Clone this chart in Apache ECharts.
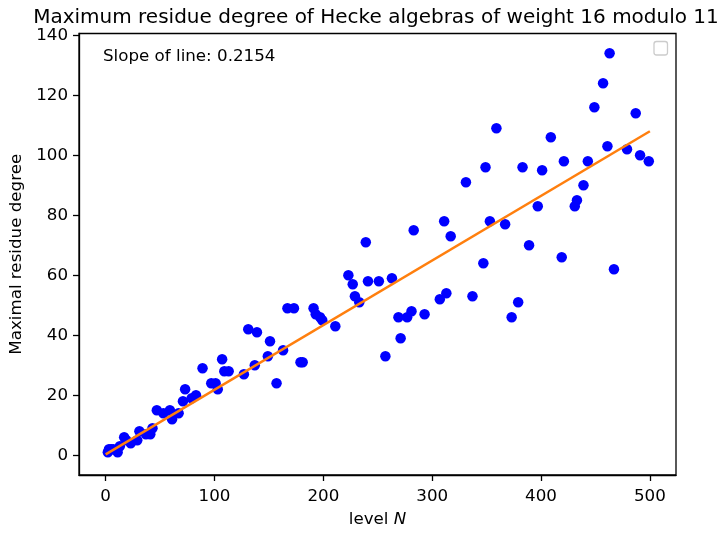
<!DOCTYPE html>
<html>
<head>
<meta charset="utf-8">
<script src="https://cdn.jsdelivr.net/npm/echarts@6/dist/echarts.min.js"></script>
<style>
html,body{margin:0;padding:0;background:#fff;}
#chart{width:722px;height:533px;}
</style>
</head>
<body>
<div id="chart"></div>
<script>
// Levels N (primes below 500)
const levels = [2,3,5,7,11,13,17,19,23,29,31,37,41,43,47,53,59,61,67,71,73,79,83,89,97,101,103,107,109,113,127,131,137,139,149,151,157,163,167,173,179,181,191,193,197,199,211,223,227,229,233,239,241,251,257,263,269,271,277,281,283,293,307,311,313,317,331,337,347,349,353,359,367,373,379,383,389,397,401,409,419,421,431,433,439,443,449,457,461,463,467,479,487,491,499];
// Maximal residue degree
const degrees = [1,2,2,2,1,3,6,5,4,5,8,7,7,9,15,14,15,12,14,18,22,19,20,29,24,24,22,32,28,28,27,42,30,41,33,38,24,35,49,49,31,31,49,47,46,45,43,60,57,53,51,71,58,58,33,59,46,39,46,48,75,47,52,78,54,73,91,53,64,96,78,109,77,46,51,96,70,83,95,106,66,98,83,85,90,98,116,124,103,134,62,102,114,100,98];
// Fitted line endpoints
const fitX = [0, 500];
const fitY = [0.3, 108.0];
const slopeText = 'Slope of line: 0.2154';
// Tick labels
const xTicks = [0,100,200,300,400,500];
const yTicks = [0,20,40,60,80,100,120,140];

const scatterData = levels.map((n,i)=>[n, degrees[i]]);
const lineData = fitX.map((x,i)=>[x, fitY[i]]);

const font = 'DejaVu Sans';
const chart = echarts.init(document.getElementById('chart'));
chart.setOption({
  animation:false,
  backgroundColor:'#fff',
  title:{
    text:'Maximum residue degree of Hecke algebras of weight 16 modulo 11',
    left:371, top:3, textAlign:'center',
    textStyle:{fontFamily:font, fontSize:20, fontWeight:'normal', color:'#000'}
  },
  grid:{left:77, right:46, top:33.5, bottom:53, show:true, borderColor:'#000', borderWidth:1.3, backgroundColor:'transparent'},
  xAxis:{
    type:'value', min:-24.5, max:524,
    name:'{a|level }{b|N}', nameLocation:'middle', nameGap:36,
    nameTextStyle:{fontFamily:font, fontSize:16.7, color:'#000',
      rich:{a:{fontFamily:font,fontSize:16.7,color:'#000'}, b:{fontFamily:font,fontSize:16.7,color:'#000',fontStyle:'italic'}}},
    axisLine:{show:true, onZero:false, lineStyle:{color:'#000', width:1.3}},
    axisTick:{show:true, length:6, lineStyle:{color:'#000', width:1.3}, customValues:xTicks},
    axisLabel:{fontFamily:font, fontSize:16.7, color:'#000', margin:13, customValues:xTicks},
    splitLine:{show:false}
  },
  yAxis:{
    type:'value', min:-6.6, max:140.6,
    name:'Maximal residue degree', nameLocation:'middle', nameGap:54,
    nameTextStyle:{fontFamily:font, fontSize:16.7, color:'#000'},
    axisLine:{show:true, onZero:false, lineStyle:{color:'#000', width:1.3}},
    axisTick:{show:true, length:6, lineStyle:{color:'#000', width:1.3}, customValues:yTicks},
    axisLabel:{fontFamily:font, fontSize:16.7, color:'#000', margin:11, customValues:yTicks},
    splitLine:{show:false}
  },
  graphic:[
    {type:'text', left:103, top:48, style:{text:slopeText, font:'16.7px "DejaVu Sans"', fill:'#000'}},
    {type:'rect', shape:{x:654, y:41.5, width:13.5, height:13.5, r:2.5}, style:{fill:'#fff', stroke:'#cccccc', lineWidth:1.3}}
  ],
  series:[
    {type:'scatter', data:scatterData, symbolSize:10.5, itemStyle:{color:'#0000ff', opacity:1}, z:2},
    {type:'line', data:lineData, symbol:'none', lineStyle:{color:'#ff7f0e', width:2.5}, z:3}
  ]
});
</script>
</body>
</html>
